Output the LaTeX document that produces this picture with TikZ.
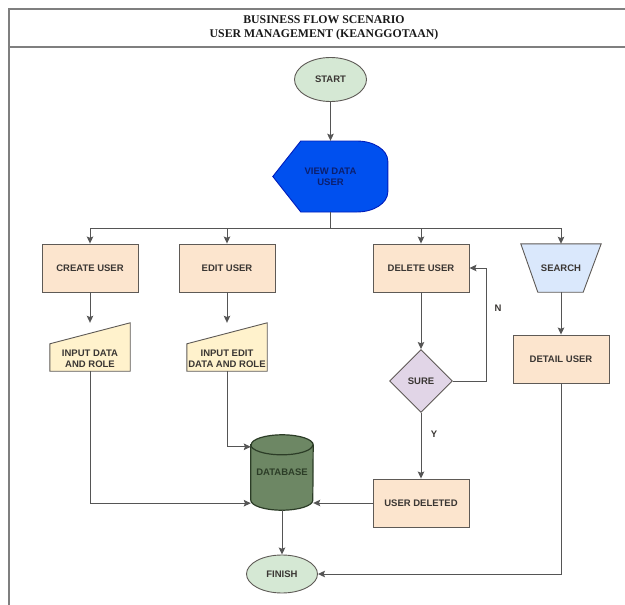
\documentclass[tikz,border=0pt]{standalone}
\usepackage{fontspec}
\setmainfont{Liberation Sans}
\newfontfamily\titlefont{Liberation Serif}
\usetikzlibrary{shapes.geometric,arrows.meta,calc,backgrounds}

\definecolor{framegray}{HTML}{7F7F7F}
\definecolor{linegray}{HTML}{555555}
\definecolor{edgegray}{HTML}{5E5A56}
\definecolor{txtgray}{HTML}{3A3633}
\definecolor{peach}{HTML}{FCE5CE}
\definecolor{cream}{HTML}{FFF2CC}
\definecolor{skyfill}{HTML}{DAE8FC}
\definecolor{lilac}{HTML}{E1D5E7}
\definecolor{mint}{HTML}{D5E8D4}
\definecolor{olive}{HTML}{6D8764}
\definecolor{olivedark}{HTML}{2C3D27}
\definecolor{royal}{HTML}{0050EF}
\definecolor{royaldark}{HTML}{001DBC}
\definecolor{navytext}{HTML}{0C1F6E}

\tikzset{
  every node/.style={font=\fontsize{9.5}{11}\selectfont\bfseries, text=txtgray,
    align=center, inner sep=0pt},
  frame/.style={draw=framegray, line width=1.1pt},
  conn/.style={draw=linegray, line width=1pt},
  arr/.style={conn, -{Stealth[length=7pt,width=6.5pt,inset=1.2pt]}},
  area/.style 2 args={rectangle, minimum width=#1, minimum height=#2},
  procbox/.style={rectangle, draw=edgegray, fill=peach, line width=0.9pt,
    minimum width=96pt, minimum height=48pt},
  terminal/.style={ellipse, draw=edgegray, fill=mint, line width=0.9pt},
  decision/.style={diamond, aspect=1, draw=edgegray, fill=lilac, line width=0.9pt,
    minimum width=63pt, minimum height=63pt},
  inputshape/.style={draw=edgegray, fill=cream, line width=0.9pt},
  searchshape/.style={draw=edgegray, fill=skyfill, line width=0.9pt},
  displayshape/.style={draw=royaldark, fill=royal, line width=0.9pt},
  dbshape/.style={draw=olivedark, fill=olive, line width=1.2pt},
}

\begin{document}
\begin{tikzpicture}[x=1pt, y=-1pt]
\useasboundingbox (0,0) rectangle (625,605);

% header frame
\draw[frame] (625,9) -- (9,9) -- (9,605);
\draw[frame] (9,47) -- (625,47);
\node[text=black!90, font=\titlefont\fontsize{11.8}{14}\selectfont\bfseries] (title) at (324,27.5)
  {BUSINESS FLOW SCENARIO\\USER MANAGEMENT (KEANGGOTAAN)};

% terminals
\node[terminal, minimum width=72pt, minimum height=44pt] (start) at (330.5,79.5) {START};
\node[terminal, minimum width=71pt, minimum height=38pt] (finish) at (282,574) {FINISH};

% display step
\node[area={115pt}{71pt}, text=navytext] (view) at (330.5,176.5) {VIEW DATA\\USER};

% process steps
\node[procbox] (create)  at (90,268)  {CREATE USER};
\node[procbox] (edit)    at (227,268) {EDIT USER};
\node[procbox] (delete)  at (421,268) {DELETE USER};
\node[procbox] (detail)  at (561,359) {DETAIL USER};
\node[procbox] (deleted) at (421,503) {USER DELETED};

% search (manual operation)
\node[area={80pt}{48pt}] (search) at (561,268) {SEARCH};

% manual inputs
\node[area={80pt}{48pt}] (in1) at (90,347) {};
\node[area={80pt}{48pt}] (in2) at (227,347) {};

% decision
\node[decision] (sure) at (421,381) {SURE};

% data store
\node[area={62pt}{75pt}, text=olivedark] (db) at (282,472.5) {DATABASE};

% shape outlines drawn behind their labels
\begin{scope}[on background layer]
  \filldraw[displayshape] (view.west) -- ++(28,-35.5) -- ++(56,0)
    arc (-90:0:31 and 20) -- ++(0,31) arc (0:90:31 and 20) -- ++(-56,0) -- cycle;
  \filldraw[searchshape] (search.north west) -- (search.north east)
    -- ([xshift=-18pt]search.south east) -- ([xshift=17pt]search.south west) -- cycle;
  \filldraw[inputshape] (in1.south west) -- ([yshift=-21pt]in1.north west)
    -- (in1.north east) -- (in1.south east) -- cycle;
  \filldraw[inputshape] (in2.south west) -- ([yshift=-21pt]in2.north west)
    -- (in2.north east) -- (in2.south east) -- cycle;
  \filldraw[dbshape] ([yshift=-10pt]db.north west) -- ([yshift=10pt]db.south west)
    arc (180:0:31 and 10) -- ([yshift=-10pt]db.north east) arc (0:-180:31 and 10) -- cycle;
  \draw[dbshape, fill=none] ([yshift=-10pt]db.north west) arc (180:0:31 and 10);
\end{scope}

\node (in1txt) at ([yshift=-11.5pt]in1.center) {INPUT DATA\\AND ROLE};
\node (in2txt) at ([yshift=-11.5pt]in2.center) {INPUT EDIT\\DATA AND ROLE};

% branch labels
\node (nlbl) at (498,308) {N};
\node (ylbl) at (434,434) {Y};

% connectors
\coordinate (bus) at (330.5,228);
\draw[arr] (start.south) -- (view.north);
\draw[conn] (view.south) -- (bus);
\draw[arr] (bus) -| (create.north);
\draw[arr] (bus) -| (edit.north);
\draw[arr] (bus) -| (delete.north);
\draw[arr] (bus) -| (search.north);

\draw[arr] (create.south) -- (in1.north);
\draw[arr] (edit.south) -- (in2.north);
\draw[arr] (in1.south) |- ($(db.south west)+(0,-7)$);
\draw[arr] (in2.south) |- ($(db.north west)+(0,12)$);

\draw[arr] (delete.south) -- (sure.north);
\draw[arr] (sure.east) -- ++(34,0) |- (delete.east);
\draw[arr] (sure.south) -- (deleted.north);
\draw[arr] (deleted.west) -- (deleted.west -| db.east);

\draw[arr] (search.south) -- (detail.north);
\draw[arr] (detail.south) |- (finish.east);
\draw[arr] (db.south) -- (finish.north);
\end{tikzpicture}
\end{document}
